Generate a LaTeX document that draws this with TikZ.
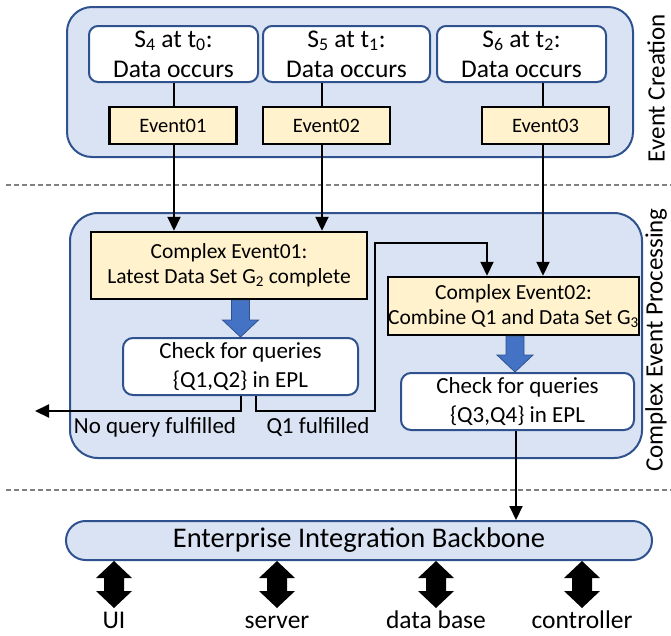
\documentclass[tikz,border=0pt]{standalone}
\usepackage{fontspec}
\setmainfont{Carlito}
\usetikzlibrary{arrows.meta,calc}
\definecolor{bfill}{HTML}{DAE3F3}
\definecolor{bline}{HTML}{2F528F}
\definecolor{yfill}{HTML}{FFF2CC}
\definecolor{barrow}{HTML}{4472C4}
\definecolor{dgray}{HTML}{808080}
% fat downward arrow: #1 top point, #2 tip point
\newcommand\fatdown[2]{%
  \filldraw[fill=barrow,draw=bline,line width=0.8pt] let \p1=(#1), \p2=(#2) in
    (\x1-9pt,\y1) -- (\x1+9pt,\y1) -- (\x1+9pt,\y2+17pt) -- (\x1+18pt,\y2+17pt) --
    (\x1,\y2) -- (\x1-18pt,\y2+17pt) -- (\x1-9pt,\y2+17pt) -- cycle;}
% fat double arrow: #1 top tip, #2 bottom tip
\newcommand\fatboth[2]{%
  \fill[black] let \p1=(#1), \p2=(#2) in
    (\x1,\y1) -- (\x1+18pt,\y1-17pt) -- (\x1+10pt,\y1-17pt) -- (\x1+10pt,\y2+17pt) --
    (\x1+18pt,\y2+17pt) -- (\x1,\y2) -- (\x1-18pt,\y2+17pt) -- (\x1-10pt,\y2+17pt) --
    (\x1-10pt,\y1-17pt) -- (\x1-18pt,\y1-17pt) -- cycle;}
\begin{document}
\begin{tikzpicture}[x=1pt,y=-1pt,
  outerbox/.style={draw=bline, fill=bfill, line width=2pt, rounded corners=25pt, inner sep=0pt},
  whitebox/.style={draw=bline, fill=white, line width=2pt, rounded corners=9pt, align=center, inner sep=0pt, font=\fontsize{25.5}{30}\selectfont},
  eventbox/.style={draw=black, fill=yfill, line width=2.5pt, inner sep=0pt, font=\fontsize{20.5}{24}\selectfont},
  cebox/.style={draw=black, fill=yfill, line width=2.5pt, inner sep=0pt, align=center, font=\fontsize{21.5}{25}\selectfont},
  chkbox/.style={draw=bline, fill=white, line width=2pt, rounded corners=10pt, align=center, inner sep=0pt, font=\fontsize{23}{29}\selectfont},
  conn/.style={draw=black, line width=2pt},
  arr/.style={conn, -{Triangle[length=14pt,width=13pt]}},
  lbl/.style={font=\fontsize{23}{28}\selectfont, anchor=base, inner sep=0pt},
  botlbl/.style={font=\fontsize{25.5}{30}\selectfont, anchor=base, inner sep=0pt},
  sidelbl/.style={font=\fontsize{25}{30}\selectfont, rotate=90, inner sep=0pt},
  sepline/.style={draw=dgray, line width=1.5pt, dash pattern=on 5pt off 3pt}
]
\useasboundingbox (0,0) rectangle (671,635);

% separators
\coordinate (d1l) at (6,185); \coordinate (d1r) at (671,185);
\coordinate (d2l) at (6,490); \coordinate (d2r) at (671,490);
\draw[sepline] (d1l) -- (d1r);
\draw[sepline] (d2l) -- (d2r);

% x positions of connectors
\coordinate (x1) at (174,0);
\coordinate (x2) at (322,0);
\coordinate (x3) at (543,0);
\coordinate (x4) at (487,0);
\coordinate (x5) at (516,0);
\coordinate (xnq) at (241,0);
\coordinate (xq) at (256,0);

% Event creation
\node[outerbox, minimum width=566pt, minimum height=150pt] (ec) at (350,82) {};
\node[whitebox, minimum width=169pt, minimum height=56pt] (s4) at (173.5,54) {S\textsubscript{4} at t\textsubscript{0}:\\Data occurs};
\node[whitebox, minimum width=167pt, minimum height=56pt] (s5) at (346.5,54) {S\textsubscript{5} at t\textsubscript{1}:\\Data occurs};
\node[whitebox, minimum width=169pt, minimum height=56pt] (s6) at (521.5,54) {S\textsubscript{6} at t\textsubscript{2}:\\Data occurs};
\draw[conn] (s4.south -| x1) -- (x1 |- 0,107);
\draw[conn] (s5.south -| x2) -- (x2 |- 0,107);
\draw[conn] (s6.south -| x3) -- (x3 |- 0,107);
\node[eventbox, minimum width=127pt, minimum height=37pt] (ev1) at (173,125.5) {Event01};
\node[eventbox, minimum width=127pt, minimum height=37pt] (ev2) at (326.5,125.5) {Event02};
\node[eventbox, minimum width=127pt, minimum height=37pt] (ev3) at (545.5,125.5) {Event03};
\node[sidelbl] (lec) at (656,88) {Event Creation};

% Complex event processing
\node[outerbox, rounded corners=28pt, minimum width=572pt, minimum height=245pt] (cep) at (356,335.5) {};
\node[cebox, minimum width=276pt, minimum height=67pt] (ce1) at (229,265.5) {Complex Event01:\\Latest Data Set G\textsubscript{2} complete};
\node[chkbox, minimum width=235pt, minimum height=57pt] (chk1) at (240.5,366.5) {Check for queries\\\{Q1,Q2\} in EPL};
\node[cebox, minimum width=243pt, minimum height=58pt] (ce2) at (513.5,306) {Complex Event02:\\Combine Q1 and Data Set G\textsubscript{3}};
\node[chkbox, minimum width=233pt, minimum height=57pt] (chk2) at (517.5,401.5) {Check for queries\\\{Q3,Q4\} in EPL};
\node[sidelbl] (lcep) at (656,340) {Complex Event Processing};

\draw[arr] (ev1.south -| x1) -- (ce1.north -| x1);
\draw[arr] (ev2.south -| x2) -- (ce1.north -| x2);
\draw[arr] (ev3.south -| x3) -- (ce2.north -| x3);

\fatdown{ce1.south -| chk1.north}{chk1.north}
\coordinate (x6) at (515,0);
\fatdown{ce2.south -| x6}{chk2.north -| x6}

\coordinate (nqend) at (35,411);
\draw[arr] (chk1.south -| xnq) -- (xnq |- nqend) -- (nqend);
\coordinate (qr) at (375,411);
\coordinate (qt) at (375,243);
\draw[arr] (chk1.south -| xq) -- (xq |- qr) -- (qr) -- (qt) -- (qt -| x4) -- (ce2.north -| x4);
\node[lbl] (nq) at (155,433) {No query fulfilled};
\node[lbl] (q1f) at (318,433) {Q1 fulfilled};

% backbone
\node[draw=bline, fill=bfill, line width=2pt, rounded corners=19.5pt, minimum width=586pt, minimum height=39pt, inner sep=0pt, font=\fontsize{28.5}{30}\selectfont] (eib) at (359,540.5) {Enterprise Integration Backbone};
\draw[arr] (chk2.south -| x5) -- (eib.north -| x5);

\node[botlbl] (ui) at (114,628) {UI};
\node[botlbl] (srv) at (277,628) {server};
\node[botlbl] (db) at (436,628) {data base};
\node[botlbl] (ctl) at (582,628) {controller};
\coordinate (b1) at (114,608);
\coordinate (b2) at (277,608);
\coordinate (b3) at (436,608);
\coordinate (b4) at (582,608);
\fatboth{eib.south -| b1}{b1}
\fatboth{eib.south -| b2}{b2}
\fatboth{eib.south -| b3}{b3}
\fatboth{eib.south -| b4}{b4}
\end{tikzpicture}
\end{document}
